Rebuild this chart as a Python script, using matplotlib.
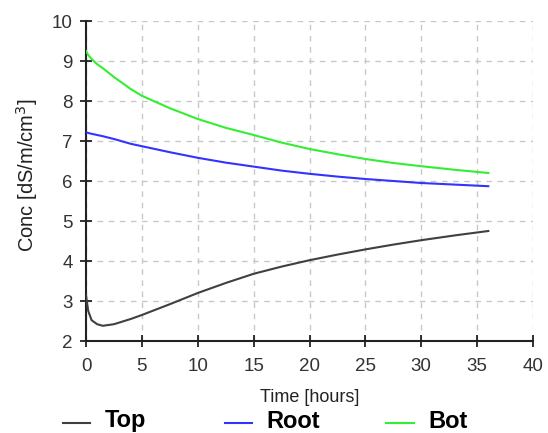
import matplotlib
matplotlib.use("Agg")
import matplotlib.pyplot as plt
from matplotlib.lines import Line2D

plt.rcParams['font.family'] = ['Liberation Sans', 'DejaVu Sans']

time_h = [0, 0.2, 0.5, 1, 1.5, 2.5, 4, 5, 7.5, 10, 12.5, 15, 17.5, 20, 22.5, 25, 27.5, 30, 33, 36]
top = [3.15, 2.75, 2.52, 2.42, 2.38, 2.42, 2.55, 2.65, 2.92, 3.2, 3.45, 3.68, 3.86, 4.02, 4.16, 4.29, 4.41, 4.52, 4.64, 4.75]
root = [7.22, 7.2, 7.18, 7.15, 7.12, 7.05, 6.93, 6.87, 6.72, 6.58, 6.46, 6.36, 6.26, 6.18, 6.11, 6.05, 6.0, 5.95, 5.91, 5.87]
bot = [9.25, 9.15, 9.05, 8.92, 8.82, 8.6, 8.3, 8.13, 7.82, 7.55, 7.33, 7.15, 6.96, 6.8, 6.67, 6.55, 6.45, 6.37, 6.28, 6.2]
series_names = ['Top', 'Root', 'Bot']
series_colors = ['#404040', '#3333ff', '#33ee33']
x_ticks = [0, 5, 10, 15, 20, 25, 30, 35, 40]
y_ticks = [2, 3, 4, 5, 6, 7, 8, 9, 10]

W, H = 548, 433
fig = plt.figure(figsize=(W / 100, H / 100), dpi=100)
ax = fig.add_axes([86 / W, 1 - 341 / H, (533 - 86) / W, (341 - 21) / H])

lines = []
for vals, c in zip([top, root, bot], series_colors):
    ln, = ax.plot(time_h, vals, color=c, lw=1.5, zorder=3)
    lines.append(ln)

ax.set_xlim(0, 40)
ax.set_ylim(2, 10)
ax.set_xticks(x_ticks)
ax.set_yticks(y_ticks)
ax.grid(True, color='#c8c8c8', linestyle=(0, (4, 4)), linewidth=1.0)
ax.set_axisbelow(True)
for s in ['top', 'right']:
    ax.spines[s].set_visible(False)
for s in ['left', 'bottom']:
    ax.spines[s].set_linewidth(1.5)
    ax.spines[s].set_color('#222222')
ax.tick_params(direction='inout', length=9, width=1.3, color='#222222',
               labelsize=13.5, labelcolor='#333333')
ax.tick_params(axis='y', pad=5)
ax.tick_params(axis='x', pad=8)

fig.text(27 / W, 1 - 175 / H, 'Conc [dS/m/cm$^3$]', rotation=90, ha='center', va='center',
         fontsize=14.5, color='#222222')
fig.text(310 / W, 1 - 398 / H, 'Time [hours]', ha='center', va='center',
         fontsize=13, color='#222222')

leg_line_x = [(63, 90), (225, 252), (386, 414)]
leg_text_x = [105, 266, 428]
ly = 1 - 423 / H
for (x0, x1), tx, name, c in zip(leg_line_x, leg_text_x, series_names, series_colors):
    fig.add_artist(Line2D([x0 / W, x1 / W], [ly, ly], color=c, lw=1.5, transform=fig.transFigure))
    fig.text(tx / W, 1 - 421 / H, name, ha='left', va='center', fontsize=17,
             fontweight='bold', color='black')

fig.savefig('out.png', dpi=100)
